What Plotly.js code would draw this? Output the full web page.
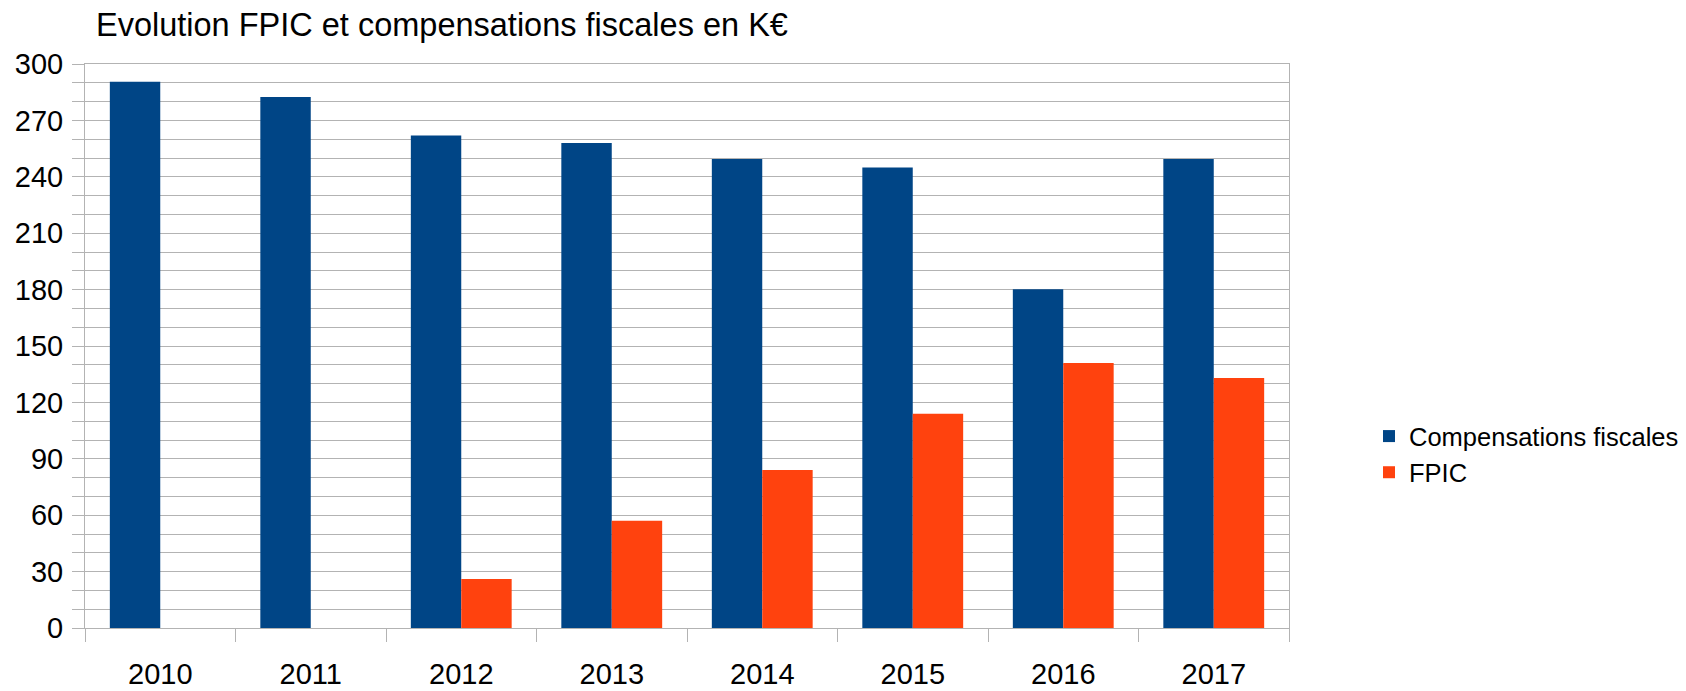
<!DOCTYPE html>
<html>
<head>
<meta charset="utf-8">
<script src="https://cdn.plot.ly/plotly-3.0.1.min.js"></script>
<style>html,body{margin:0;padding:0;background:#fff;}#chart{width:1686px;height:691px;}</style>
</head>
<body>
<div id="chart"></div>
<script>
const years = ['2010', '2011', '2012', '2013', '2014', '2015', '2016', '2017'];
const compensations = [290.5, 282.5, 262, 258, 249.5, 245, 180.2, 249.5];
const fpic = [null, null, 26, 57, 84, 114, 141, 133];
const seriesNames = ['Compensations fiscales', 'FPIC'];
const titleText = 'Evolution FPIC et compensations fiscales en K€';

const FONT = 'Liberation Sans, Arial, sans-serif';
const GRID = '#b3b3b3';

function hasFont(name) {
  const c = document.createElement('canvas').getContext('2d');
  const t = '2010 Compensations fiscales';
  c.font = '40px monospace';
  const w1 = c.measureText(t).width;
  c.font = '40px "' + name + '", monospace';
  const w2 = c.measureText(t).width;
  return Math.abs(w1 - w2) > 0.5;
}
const narrow = hasFont('Liberation Sans Narrow');
const tickFont = narrow
  ? {family: '"Liberation Sans Narrow", Liberation Sans, Arial, sans-serif', size: 33, color: '#000'}
  : {family: FONT, size: 29, color: '#000'};

const traces = [
  {type: 'bar', x: years, y: compensations, name: seriesNames[0], legendgroup: 'a',
   marker: {color: '#004586', line: {width: 0}}},
  {type: 'bar', x: years, y: fpic, name: seriesNames[1], legendgroup: 'b',
   marker: {color: '#ff420e', line: {width: 0}}}
];

const layout = {
  width: 1686, height: 691,
  paper_bgcolor: '#ffffff', plot_bgcolor: '#ffffff',
  font: {family: FONT, color: '#000000', size: 29},
  margin: {l: 85, r: 397, t: 63.5, b: 62.5, pad: 0},
  barmode: 'group', bargap: 0.33, bargroupgap: 0,
  showlegend: true,
  title: {text: titleText, font: {family: FONT, size: 32.5, color: '#000'},
          xref: 'container', yref: 'container', x: 96/1686, xanchor: 'left',
          y: 1 - 25/691, yanchor: 'middle'},
  legend: {xref: 'container', yref: 'container', x: 1369/1686, xanchor: 'left',
           y: 1 - 454.5/691, yanchor: 'middle', font: {family: FONT, size: 25.5, color: '#000'},
           bgcolor: 'rgba(0,0,0,0)', tracegroupgap: 10, traceorder: 'normal'},
  xaxis: {type: 'category', tickson: 'boundaries', ticks: 'outside', ticklen: 13, tickcolor: GRID, tickwidth: 1,
          showgrid: false, showline: true, linecolor: GRID, linewidth: 1, mirror: true,
          ticklabelstandoff: narrow ? 16 : 20, tickfont: tickFont, zeroline: false,
          fixedrange: true},
  yaxis: {range: [0, 300], dtick: 30, tick0: 0, ticks: 'outside', ticklen: 12, tickcolor: GRID, tickwidth: 1,
          showgrid: true, gridcolor: GRID, gridwidth: 1, showline: true, linecolor: GRID, linewidth: 1, mirror: true,
          zeroline: false, tickfont: tickFont, ticklabelstandoff: 3,
          minor: {dtick: 10, tick0: 0, ticks: 'outside', ticklen: 12, tickcolor: GRID, showgrid: true, gridcolor: GRID, gridwidth: 1},
          fixedrange: true}
};

Plotly.newPlot('chart', traces, layout, {displayModeBar: false, staticPlot: true});
</script>
</body>
</html>
